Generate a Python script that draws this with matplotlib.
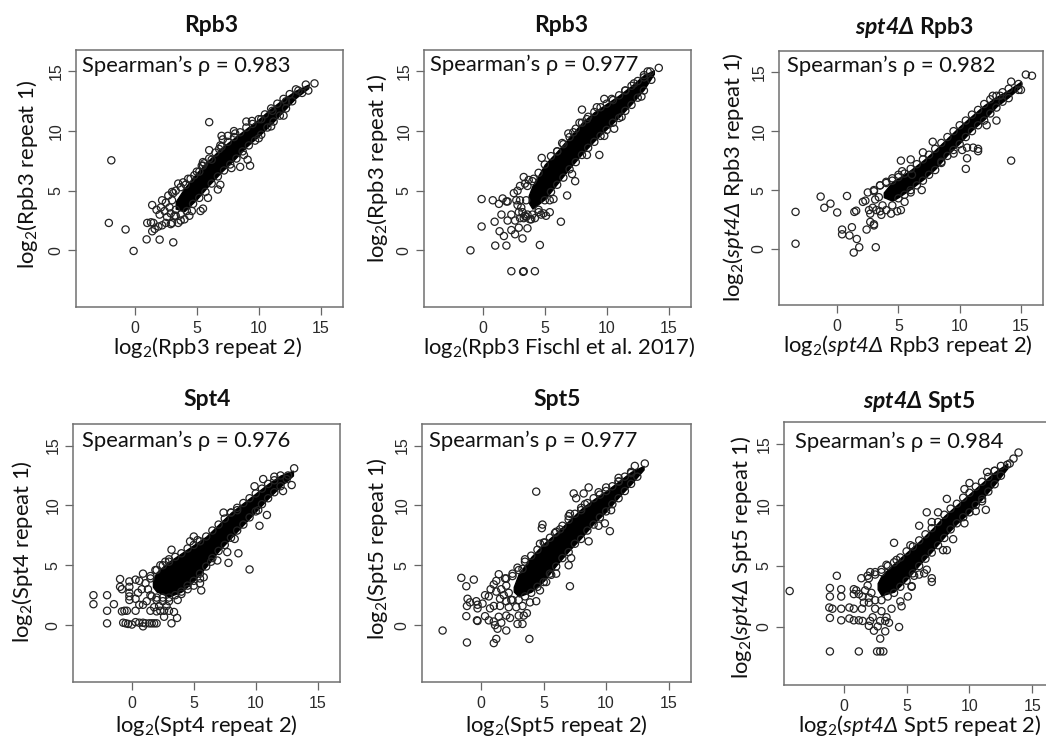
import numpy as np
import matplotlib
matplotlib.use('Agg')
import matplotlib.pyplot as plt

W, H = 1046, 738
plt.rcParams['font.family'] = ['Lato', 'DejaVu Sans']
plt.rcParams['mathtext.fontset'] = 'custom'
plt.rcParams['mathtext.rm'] = 'Lato'
plt.rcParams['mathtext.it'] = 'Lato:italic'
plt.rcParams['mathtext.bf'] = 'Lato:bold'
# cal and sf used for gene names: they keep digits and capital greek slanted
plt.rcParams['mathtext.cal'] = 'Lato:italic'
plt.rcParams['mathtext.sf'] = 'Lato:italic:bold'

rhos = ['0.983', '0.977', '0.982', '0.976', '0.977', '0.984']
titles = ['Rpb3', 'Rpb3', r'$\mathsf{spt4Δ}$ Rpb3', 'Spt4', 'Spt5', r'$\mathsf{spt4Δ}$ Spt5']
xlabels = ['log$_2$(Rpb3 repeat 2)', 'log$_2$(Rpb3 Fischl et al. 2017)', r'log$_2$($\mathcal{spt4Δ}$ Rpb3 repeat 2)',
           'log$_2$(Spt4 repeat 2)', 'log$_2$(Spt5 repeat 2)', r'log$_2$($\mathcal{spt4Δ}$ Spt5 repeat 2)']
ylabels = ['log$_2$(Rpb3 repeat 1)', 'log$_2$(Rpb3 repeat 1)', r'log$_2$($\mathcal{spt4Δ}$ Rpb3 repeat 1)',
           'log$_2$(Spt4 repeat 1)', 'log$_2$(Spt5 repeat 1)', r'log$_2$($\mathcal{spt4Δ}$ Spt5 repeat 1)']

band1_x = [3.3, 4, 5, 6, 7, 8, 9, 10, 11, 12, 13, 14]
band1_lo = [3.5, 3.3, 4.3, 5.5, 6.6, 7.6, 8.7, 9.6, 10.6, 11.7, 12.8, 13.6]
band1_hi = [4.1, 5.2, 6.5, 7.6, 8.6, 9.4, 10.2, 11.0, 11.9, 12.7, 13.4, 13.9]
band2_x = [3.7, 4, 5, 6, 7, 8, 9, 10, 11, 12, 13, 13.8]
band2_lo = [4.0, 3.5, 4.3, 5.6, 6.9, 8.1, 9.2, 10.2, 11.2, 12.3, 13.5, 14.8]
band2_hi = [4.6, 5.4, 7.2, 8.3, 9.5, 10.7, 11.6, 12.3, 13.0, 13.8, 14.7, 15.1]
band3_x = [3.8, 4.5, 5, 6, 7, 8, 9, 10, 11, 12, 13, 14, 15]
band3_lo = [4.4, 4.1, 4.4, 5.1, 5.9, 6.8, 8.0, 9.0, 10.1, 11.0, 12.1, 12.9, 13.8]
band3_hi = [4.8, 5.7, 6.0, 6.7, 7.5, 8.4, 9.4, 10.4, 11.3, 12.2, 12.9, 13.5, 14.2]
band4_x = [1.7, 2, 3, 4, 5, 6, 7, 8, 9, 10, 11, 12, 13]
band4_lo = [3.2, 2.8, 2.4, 2.8, 3.7, 4.9, 6.2, 7.3, 8.4, 9.5, 10.6, 11.6, 12.5]
band4_hi = [3.8, 4.4, 5.3, 6.0, 6.7, 7.4, 8.4, 9.4, 10.2, 11.0, 11.8, 12.5, 12.9]
band5_x = [2.6, 3, 4, 5, 6, 7, 8, 9, 10, 11, 12, 13]
band5_lo = [2.8, 2.4, 2.8, 3.7, 5.0, 6.2, 7.3, 8.5, 9.5, 10.7, 11.8, 13.0]
band5_hi = [3.2, 4.3, 5.7, 6.8, 7.7, 8.7, 9.7, 10.5, 11.2, 12.0, 12.8, 13.3]
band6_x = [2.7, 3, 4, 5, 6, 7, 8, 9, 10, 11, 12, 13]
band6_lo = [3.1, 2.6, 2.9, 3.9, 5.1, 6.2, 7.4, 8.5, 9.4, 10.5, 11.7, 13.0]
band6_hi = [3.6, 4.2, 5.2, 6.1, 7.0, 8.0, 9.1, 10.0, 10.9, 11.8, 12.7, 13.4]

pts1 = [(-1.9, 7.55), (-2.1, 2.3), (-0.75, 1.75), (-0.1, -0.05), (0.95, 0.92), (2.0, 0.9), (3.1, 0.67), (1.4, 3.8),
        (1.75, 3.4), (6.0, 10.75), (6.0, 8.4), (11.1, 11.7), (8.0, 10.0), (9.0, 10.8), (9.45, 10.85), (7.0, 9.6),
        (7.5, 9.6), (8.1, 9.8), (7.1, 9.3), (6.9, 8.8), (6.8, 8.5), (9.3, 7.1), (9.1, 7.6), (8.5, 7.0), (5.5, 7.4),
        (1.0, 2.3), (1.3, 2.35), (1.5, 2.3), (1.4, 1.6), (1.6, 1.8), (1.9, 2.0), (2.2, 2.1), (2.5, 2.3), (2.9, 2.2),
        (3.0, 2.3), (3.5, 2.3), (3.7, 2.5), (4.0, 2.6), (4.4, 2.9), (4.6, 3.3), (5.3, 3.3), (5.5, 3.5), (5.9, 4.4),
        (6.7, 5.1), (6.9, 5.5), (2.0, 3.0), (2.1, 3.6), (2.4, 3.3), (2.5, 4.0), (2.2, 4.2), (2.7, 4.6), (3.1, 4.8),
        (2.6, 2.8), (2.9, 3.1), (3.3, 3.4), (3.5, 5.6), (3.9, 5.7), (4.3, 6.0), (4.8, 6.3), (5.2, 6.6), (5.6, 7.3),
        (5.4, 7.1), (6.2, 7.6), (10.0, 9.4), (11.0, 10.4), (12.0, 11.3), (13.2, 13.4), (14.5, 14.0), (13.8, 13.9),
        (14.0, 13.4), (10.2, 11.0), (12.2, 12.5), (7.8, 6.9), (8.8, 8.0), (2.8, 3.6), (3.0, 4.2), (3.3, 2.9)]
edge1 = [(3.0, 4.9), (3.3, 5.0), (3.7, 5.3), (4.1, 5.5), (4.5, 6.0), (5.0, 6.6), (5.5, 7.1), (6.0, 7.7), (6.5, 8.2),
         (7.0, 8.7), (7.5, 9.1), (8.0, 9.5), (8.5, 9.9), (9.0, 10.3), (9.5, 10.6), (10.0, 11.0), (10.5, 11.4),
         (11.0, 11.9), (11.5, 12.3), (12.0, 12.7), (12.5, 13.1), (13.0, 13.5), (3.2, 2.9), (3.7, 3.0), (4.2, 3.3),
         (4.7, 3.9), (5.2, 4.4), (5.7, 4.9), (6.2, 5.6), (6.7, 6.2), (7.2, 6.7), (7.7, 7.2), (8.2, 7.7), (8.7, 8.3),
         (9.2, 8.8), (9.7, 9.2), (10.2, 9.7), (10.7, 10.3), (11.2, 10.8), (11.7, 11.3), (12.2, 11.9), (12.7, 12.5),
         (13.5, 13.2)]
pts2 = [(-1.0, 0.0), (-0.1, 2.0), (-0.1, 4.3), (0.8, 4.2), (1.0, 0.4), (1.9, 0.4), (0.95, 2.4), (1.5, 3.0), (1.3, 3.9),
        (1.6, 4.35), (2.0, 4.1), (1.9, 4.1), (1.35, 1.6), (1.7, 1.2), (2.0, 2.5), (2.3, 1.7), (2.6, 1.35), (2.9, 1.9),
        (3.2, 1.0), (3.6, 1.85), (4.6, 0.45), (2.3, -1.75), (3.3, -1.75), (3.25, -1.8), (4.2, -1.75), (6.3, 2.4),
        (6.8, 4.6), (7.45, 5.8), (4.75, 7.75), (3.3, 6.15), (6.9, 9.8), (8.0, 11.8), (9.4, 8.0), (10.6, 10.2),
        (12.8, 12.9), (14.2, 15.3), (13.5, 15.0), (13.0, 14.5), (5.4, 4.2), (5.7, 4.3), (4.9, 3.1), (5.4, 3.2),
        (5.1, 2.9), (2.3, 3.0), (2.6, 2.5), (2.9, 3.2), (3.0, 2.7), (2.5, 4.8), (2.8, 5.0), (2.7, 4.2), (3.1, 3.6),
        (3.3, 2.7), (3.6, 3.0), (3.9, 2.6), (4.2, 2.7), (4.5, 3.2), (4.7, 3.0), (3.4, 5.6), (3.0, 5.4), (3.7, 5.9),
        (4.1, 6.0), (6.0, 8.3), (6.4, 9.0), (7.3, 9.9), (7.8, 10.7), (8.4, 11.0), (9.2, 12.0), (9.8, 12.7),
        (10.4, 12.7), (11.5, 13.4), (12.2, 14.0), (7.2, 6.4), (8.4, 8.0), (9.8, 9.6), (11.2, 11.2), (3.5, 4.2),
        (3.0, 4.2), (3.2, 3.2), (2.8, 3.8), (3.4, 2.9), (3.8, 2.6)]
edge2 = [(3.6, 5.4), (4.0, 5.8), (4.5, 6.5), (5.0, 7.2), (5.5, 7.9), (6.0, 8.3), (6.5, 8.9), (7.0, 9.5), (7.5, 10.2),
         (8.0, 10.7), (8.5, 11.2), (9.0, 11.6), (9.5, 12.0), (10.0, 12.3), (10.5, 12.6), (11.0, 13.0), (11.5, 13.4),
         (12.0, 13.8), (12.5, 14.2), (13.0, 14.7), (13.3, 15.0), (3.5, 2.8), (4.0, 3.0), (4.5, 3.4), (5.0, 4.2),
         (5.5, 4.9), (6.0, 5.5), (6.5, 6.1), (7.0, 6.8), (7.5, 7.4), (8.0, 8.0), (8.5, 8.6), (9.0, 9.1), (9.5, 9.6),
         (10.0, 10.1), (10.5, 10.7), (11.0, 11.1), (11.5, 11.7), (12.0, 12.2), (12.5, 12.8), (13.0, 13.4), (13.6, 14.3)]
pts3 = [(-3.4, 3.15), (-3.4, 0.45), (-1.35, 4.45), (-1.05, 3.5), (-0.55, 3.85), (0.0, 3.1), (0.4, 1.65), (0.4, 1.25),
        (0.8, 4.5), (1.0, 1.15), (1.2, 1.85), (1.4, 3.15), (1.55, 3.25), (1.6, 0.85), (1.8, 0.15), (1.35, -0.3),
        (3.15, 0.15), (2.4, 1.65), (3.0, 2.0), (3.0, 2.1), (2.7, 2.3), (2.3, 4.1), (2.1, 4.0), (5.2, 7.5), (6.0, 7.6),
        (7.0, 8.2), (7.8, 9.1), (14.2, 7.5), (10.5, 6.8), (10.6, 7.7), (11.5, 8.3), (11.5, 8.5), (10.2, 8.4),
        (10.6, 8.6), (11.1, 8.6), (12.2, 10.5), (13.0, 10.9), (15.4, 14.8), (15.9, 14.7), (14.2, 14.2), (12.7, 13.0),
        (13.3, 13.0), (6.9, 5.0), (6.0, 4.8), (5.5, 4.0), (4.4, 3.0), (3.6, 2.9), (5.2, 3.3), (4.9, 3.2), (2.7, 3.0),
        (2.9, 3.5), (2.5, 4.8), (3.0, 5.0), (3.5, 5.4), (4.0, 5.7), (4.5, 6.0), (5.0, 6.3), (5.3, 6.6), (6.1, 6.3),
        (3.2, 3.3), (2.6, 3.3), (3.4, 4.4), (8.5, 7.4), (9.5, 8.1), (15.0, 13.5), (14.8, 14.0), (3.1, 4.2), (3.7, 3.7)]
edge3 = [(3.0, 4.9), (3.5, 5.4), (4.0, 5.6), (4.5, 5.8), (5.0, 6.1), (5.5, 6.4), (6.0, 6.8), (6.5, 7.2), (7.0, 7.6),
         (7.5, 8.0), (8.0, 8.5), (8.5, 9.0), (9.0, 9.5), (9.5, 10.0), (10.0, 10.5), (10.5, 10.9), (11.0, 11.4),
         (11.5, 11.8), (12.0, 12.3), (12.5, 12.7), (13.0, 13.0), (13.5, 13.3), (14.0, 13.6), (3.5, 3.2), (4.0, 3.3),
         (4.5, 3.7), (5.0, 4.3), (5.5, 4.6), (6.0, 5.0), (6.5, 5.4), (7.0, 5.8), (7.5, 6.3), (8.0, 6.7), (8.5, 7.3),
         (9.0, 7.9), (9.5, 8.4), (10.0, 8.9), (10.5, 9.5), (11.0, 10.0), (11.5, 10.5), (12.0, 10.9), (12.5, 11.5),
         (13.0, 12.0), (13.5, 12.5), (14.0, 12.8), (14.8, 13.5)]
pts4 = [(-3.1, 2.5), (-3.1, 1.75), (-2.0, 2.5), (-2.0, 1.2), (-2.0, 0.15), (-1.45, 1.75), (-0.8, 1.15), (-0.6, 1.2),
        (-0.4, 1.2), (-0.95, 3.85), (-0.95, 3.2), (-0.8, 3.0), (-0.2, 3.65), (-0.2, 3.2), (-0.2, 2.7), (-0.2, 2.4),
        (-0.2, 2.1), (-0.7, 0.2), (-0.5, 0.15), (-0.3, 0.1), (0.0, 0.05), (0.3, 0.25), (0.6, 0.2), (0.9, 0.2),
        (0.9, -0.1), (1.1, 0.15), (1.4, 0.15), (1.6, 0.15), (1.8, 0.15), (2.0, 0.15), (3.2, 0.15), (3.65, 0.6),
        (2.6, 0.7), (3.4, 1.1), (3.0, 1.2), (1.5, 1.2), (2.0, 1.15), (2.3, 1.2), (2.6, 1.2), (1.8, 1.5), (2.2, 1.6),
        (2.8, 1.6), (0.3, 1.2), (0.6, 1.7), (0.9, 1.7), (1.2, 2.0), (0.3, 2.2), (0.5, 2.7), (0.8, 3.0), (0.3, 3.8),
        (0.6, 3.7), (0.9, 4.3), (1.1, 3.5), (1.3, 3.0), (1.6, 2.4), (2.0, 2.1), (2.5, 2.0), (3.0, 2.0), (3.7, 2.1),
        (1.5, 3.9), (1.9, 4.6), (2.3, 5.0), (2.7, 5.3), (3.2, 6.3), (3.0, 5.5), (4.7, 7.0), (5.0, 7.4), (5.3, 7.1),
        (7.4, 9.4), (8.0, 9.4), (8.5, 9.6), (9.9, 11.6), (10.6, 12.2), (11.5, 12.4), (12.6, 12.5), (13.1, 13.1),
        (12.9, 11.7), (12.2, 11.2), (10.2, 9.6), (10.9, 9.2), (10.3, 8.3), (9.5, 4.65), (8.6, 6.0), (7.8, 5.2),
        (7.7, 6.1), (8.3, 7.2), (6.9, 5.4), (6.4, 5.3), (5.6, 2.9), (5.5, 3.5), (5.5, 3.9), (5.8, 4.0), (5.0, 3.3),
        (4.5, 3.0), (4.0, 2.6)]
edge4 = [(1.5, 4.1), (2.0, 4.6), (2.5, 5.0), (3.0, 5.3), (3.5, 5.7), (4.0, 6.0), (4.5, 6.4), (5.0, 6.7), (5.5, 7.0),
         (6.0, 7.4), (6.5, 7.9), (7.0, 8.4), (7.5, 8.9), (8.0, 9.4), (8.5, 9.8), (9.0, 10.2), (9.5, 10.6), (10.0, 11.0),
         (10.5, 11.4), (11.0, 11.8), (11.5, 12.1), (12.0, 12.5), (1.5, 2.5), (2.0, 2.3), (2.5, 2.3), (3.0, 2.3),
         (3.5, 2.5), (4.0, 2.8), (4.5, 3.3), (5.0, 3.7), (5.5, 4.3), (6.0, 4.9), (6.5, 5.6), (7.0, 6.2), (7.5, 6.7),
         (8.0, 7.3), (8.5, 7.9), (9.0, 8.4), (9.5, 9.0), (10.0, 9.5), (10.5, 10.1), (11.0, 10.6), (11.5, 11.1),
         (12.0, 11.6), (12.5, 12.2)]
pts5 = [(-3.1, -0.45), (-1.6, 3.95), (-1.2, 3.25), (-0.6, 3.8), (-1.1, 2.2), (-1.15, 1.6), (-1.2, 0.75), (-1.15, -1.45),
        (-0.9, 1.9), (-0.4, 2.0), (-0.3, 1.4), (-0.3, 1.7), (-0.35, 0.4), (-0.3, 0.35), (0.1, 1.8), (0.3, 2.5),
        (0.6, 2.4), (0.3, 0.75), (0.6, 0.4), (0.7, 1.4), (1.0, 0.3), (1.1, 0.0), (1.3, -0.3), (1.2, -1.15),
        (1.0, -1.5), (1.6, 0.2), (2.0, -0.45), (1.4, 0.7), (2.0, 0.8), (2.3, 0.6), (2.9, 0.1), (3.3, 0.1), (3.0, 0.8),
        (3.4, 0.8), (3.65, 1.0), (3.85, -1.15), (0.75, 3.0), (1.0, 3.4), (1.4, 4.25), (1.2, 3.7), (1.9, 3.9),
        (2.5, 4.3), (2.9, 4.8), (3.3, 4.7), (1.0, 1.6), (1.5, 1.6), (2.2, 1.5), (2.8, 1.5), (3.3, 1.6), (3.9, 1.9),
        (4.4, 2.0), (4.7, 2.9), (5.2, 3.6), (5.6, 4.2), (6.0, 4.3), (7.1, 3.25), (7.0, 5.0), (7.2, 5.6), (10.3, 7.85),
        (8.6, 7.0), (9.4, 8.3), (9.9, 8.5), (10.4, 9.6), (4.4, 11.15), (4.9, 8.4), (4.85, 8.1), (7.1, 9.3), (7.0, 9.1),
        (7.4, 11.0), (7.6, 10.6), (8.2, 11.0), (8.6, 11.5), (8.3, 10.1), (8.0, 9.6), (9.4, 11.1), (10.0, 11.5),
        (11.0, 12.0), (11.0, 12.3), (12.3, 13.3), (13.1, 13.5), (12.0, 12.7), (3.5, 5.5), (4.7, 6.8), (5.1, 6.9),
        (5.9, 7.7), (6.3, 8.0), (1.6, 3.0), (1.8, 2.5), (2.0, 3.3), (2.2, 2.7), (1.5, 2.2), (2.4, 2.1), (1.2, 2.8)]
edge5 = [(2.0, 3.9), (2.5, 4.1), (3.0, 4.6), (3.5, 5.3), (4.0, 5.8), (4.5, 6.3), (5.0, 6.9), (5.5, 7.3), (6.0, 7.8),
         (6.5, 8.3), (7.0, 8.8), (7.5, 9.3), (8.0, 9.8), (8.5, 10.2), (9.0, 10.6), (9.5, 10.9), (10.0, 11.2),
         (10.5, 11.6), (11.0, 12.0), (11.5, 12.4), (12.0, 12.8), (2.0, 2.0), (2.5, 2.1), (3.0, 2.1), (3.5, 2.4),
         (4.0, 2.7), (4.5, 3.2), (5.0, 3.6), (5.5, 4.3), (6.0, 4.9), (6.5, 5.6), (7.0, 6.1), (7.5, 6.8), (8.0, 7.2),
         (8.5, 7.9), (9.0, 8.4), (9.5, 9.0), (10.0, 9.5), (10.5, 10.1), (11.0, 10.6), (11.5, 11.2), (12.0, 11.8),
         (12.5, 12.4)]
pts6 = [(-4.3, 2.95), (-1.1, 3.2), (-1.1, 2.5), (-1.15, 1.6), (-0.9, 1.5), (-1.1, 0.75), (-1.1, -2.0), (-0.55, 4.2),
        (-0.2, 3.1), (-0.2, 2.5), (-0.2, 1.5), (-0.2, 0.55), (0.45, 1.6), (0.45, 0.7), (0.8, 1.5), (0.8, 0.55),
        (0.8, 2.7), (0.8, 3.1), (1.2, 0.55), (1.2, -2.0), (1.45, 1.5), (1.5, 0.5), (2.1, 0.5), (2.0, 0.1), (2.3, 0.8),
        (2.4, -0.3), (2.7, 0.05), (2.9, 0.5), (3.3, 0.5), (3.4, 0.8), (3.3, -0.35), (2.9, -0.95), (2.65, -2.0),
        (2.9, -2.0), (3.15, -2.0), (3.6, 0.35), (4.4, 0.0), (4.6, 1.7), (3.8, 1.5), (4.5, 2.1), (5.1, 2.5), (5.4, 3.3),
        (5.4, 3.35), (1.4, 4.0), (1.9, 4.2), (2.1, 4.5), (1.7, 3.0), (1.2, 2.7), (1.0, 3.0), (1.6, 2.0), (2.5, 1.5),
        (3.0, 1.3), (7.0, 3.7), (7.0, 4.0), (6.6, 4.7), (6.0, 4.3), (6.4, 4.4), (5.6, 4.2), (8.2, 6.3), (8.7, 7.2),
        (7.9, 6.3), (9.6, 8.5), (11.3, 9.6), (11.0, 10.3), (10.5, 9.5), (4.0, 6.9), (6.0, 8.3), (6.6, 9.4), (7.5, 9.4),
        (7.0, 8.6), (8.2, 10.5), (9.6, 11.3), (10.0, 11.8), (12.0, 12.8), (11.4, 12.7), (13.2, 13.4), (13.9, 14.3),
        (13.5, 13.8), (13.0, 13.3), (5.3, 6.7), (4.2, 5.5), (3.4, 5.1), (3.0, 4.7), (2.5, 4.5), (1.9, 3.4), (2.2, 2.8),
        (1.5, 2.5), (2.0, 2.0)]
edge6 = [(2.0, 4.0), (2.5, 4.3), (3.0, 4.5), (3.5, 5.0), (4.0, 5.3), (4.5, 5.7), (5.0, 6.2), (5.5, 6.6), (6.0, 7.1),
         (6.5, 7.6), (7.0, 8.1), (7.5, 8.6), (8.0, 9.2), (8.5, 9.7), (9.0, 10.1), (9.5, 10.6), (10.0, 11.0),
         (10.5, 11.5), (11.0, 11.9), (11.5, 12.3), (12.0, 12.8), (12.5, 13.2), (2.0, 2.4), (2.5, 2.2), (3.0, 2.2),
         (3.5, 2.5), (4.0, 2.8), (4.5, 3.3), (5.0, 3.8), (5.5, 4.4), (6.0, 5.0), (6.5, 5.6), (7.0, 6.1), (7.5, 6.7),
         (8.0, 7.3), (8.5, 8.0), (9.0, 8.5), (9.5, 9.0), (10.0, 9.4), (10.5, 10.0), (11.0, 10.5), (11.5, 11.1),
         (12.0, 11.7), (12.5, 12.4)]

bands = [(band1_x, band1_lo, band1_hi), (band2_x, band2_lo, band2_hi), (band3_x, band3_lo, band3_hi),
         (band4_x, band4_lo, band4_hi), (band5_x, band5_lo, band5_hi), (band6_x, band6_lo, band6_hi)]
points = [pts1 + edge1, pts2 + edge2, pts3 + edge3, pts4 + edge4, pts5 + edge5, pts6 + edge6]

# frame in pixels: left, right, top, bottom
frames = [(76, 343, 50, 307), (424, 691, 50, 307), (779, 1043, 51, 305),
          (73, 340, 424, 682), (422, 691, 424, 682), (784, 1055, 422, 685)]
title_pos = [(211, 25), (561, 25), (915, 27), (207, 400), (557, 400), (919, 402)]
xlabel_pos = [(208, 348), (559, 348), (908, 345), (206, 725), (556, 725), (920, 725)]
ylabel_pos = [(28, 174), (377, 168), (733, 177), (23, 552), (377, 549), (741, 557)]
rho_pos = [(82, 66), (430, 65), (787, 66), (82, 441), (429, 441), (795, 442)]


def put(fig, pos, s, **kw):
    fig.text(pos[0] / W, 1 - pos[1] / H, s, ha='center', va='center', color='#111111', **kw)


fig = plt.figure(figsize=(W / 100, H / 100), dpi=100)
for i in range(6):
    l, r, t, b = frames[i]
    ax = fig.add_axes([l / W, 1 - b / H, (r - l) / W, (b - t) / H])
    ax.set_xlim(-4.75, 16.8)
    ax.set_ylim(-4.75, 16.8)
    bx, lo, hi = bands[i]
    ax.fill_between(bx, lo, hi, color='black', lw=1, zorder=2)
    px, py = np.array(points[i]).T
    ax.scatter(px, py, s=27, facecolors='none', edgecolors='#222222', linewidths=0.9, zorder=3)
    ax.set_xticks([0, 5, 10, 15])
    ax.set_yticks([0, 5, 10, 15])
    ax.tick_params(length=6, width=0.9, color='#666666', labelsize=11.5, labelcolor='#2a2a2a')
    ax.tick_params(axis='x', pad=4)
    ax.tick_params(axis='y', pad=3)
    for lab in ax.get_xticklabels() + ax.get_yticklabels():
        lab.set_family('Liberation Sans')
    for lab in ax.get_yticklabels():
        lab.set_rotation(90)
        lab.set_va('center')
    for s in ax.spines.values():
        s.set_color('#707070')
        s.set_linewidth(1.1)
    put(fig, title_pos[i], titles[i], fontsize=16.5, fontweight='bold')
    put(fig, xlabel_pos[i], xlabels[i], fontsize=15.8)
    put(fig, ylabel_pos[i], ylabels[i], fontsize=15.8, rotation=90)
    fig.text(rho_pos[i][0] / W, 1 - rho_pos[i][1] / H, 'Spearman’s ρ = ' + rhos[i], ha='left', va='center',
             fontsize=15.8, color='#111111')

fig.savefig('out.png', dpi=100)
